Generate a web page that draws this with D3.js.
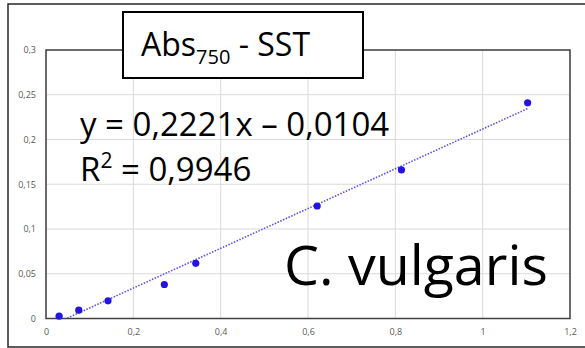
<!DOCTYPE html>
<html>
<head>
<meta charset="utf-8">
<script src="https://cdn.jsdelivr.net/npm/d3@7"></script>
<style>
  body { margin: 0; background: #fff; }
  svg text { font-family: "Open Sans", Lato, sans-serif; }
</style>
</head>
<body>
<div class="chart"></div>
<script>
// data
var xValues = [0.030, 0.075, 0.142, 0.271, 0.343, 0.621, 0.814, 1.103];
var yValues = [0.0026, 0.0093, 0.0197, 0.038, 0.0616, 0.1257, 0.166, 0.241];
var xTicks = [0, 0.2, 0.4, 0.6, 0.8, 1, 1.2];
var yTicks = [0, 0.05, 0.1, 0.15, 0.2, 0.25, 0.3];
var slope = 0.2221, intercept = -0.0104;

var w = 585, h = 348;
var svg = d3.select('.chart').append('svg')
    .attr('width', w).attr('height', h);

// outer frame
svg.append('rect')
    .attr('x', 8).attr('y', 4).attr('width', 600).attr('height', 343)
    .attr('fill', 'none').attr('stroke', '#262626').attr('stroke-width', 1.5);

var x = d3.scaleLinear().domain([0, 1.2]).range([46, 570]);
var y = d3.scaleLinear().domain([0, 0.3]).range([318.5, 50]);

var fmt = function(d) { return String(d).replace('.', ','); };

// grid
svg.append('g').selectAll('line').data(yTicks).enter().append('line')
    .attr('x1', x(0)).attr('x2', x(1.2))
    .attr('y1', function(d) { return y(d); }).attr('y2', function(d) { return y(d); })
    .attr('stroke', '#d9d9d9').attr('stroke-width', 1);
svg.append('g').selectAll('line').data(xTicks).enter().append('line')
    .attr('y1', y(0)).attr('y2', y(0.3))
    .attr('x1', function(d) { return x(d); }).attr('x2', function(d) { return x(d); })
    .attr('stroke', '#d9d9d9').attr('stroke-width', 1);

// axes (labels only, no tick marks)
var yAxis = svg.append('g').attr('transform', 'translate(' + x(0) + ',0)')
    .call(d3.axisLeft(y).tickValues(yTicks).tickFormat(fmt).tickSize(0).tickPadding(10));
var xAxis = svg.append('g').attr('transform', 'translate(0,' + y(0) + ')')
    .call(d3.axisBottom(x).tickValues(xTicks).tickFormat(fmt).tickSize(0).tickPadding(10));
[yAxis, xAxis].forEach(function(a) {
    a.select('.domain').remove();
    a.selectAll('text').attr('font-size', 9).attr('fill', '#595959')
        .attr('font-family', '"Open Sans", sans-serif');
});

// plot frame
svg.append('rect')
    .attr('x', x(0)).attr('y', y(0.3))
    .attr('width', x(1.2) - x(0)).attr('height', y(0) - y(0.3))
    .attr('fill', 'none').attr('stroke', '#404040').attr('stroke-width', 1.5);

// trendline, clipped to the plot
svg.append('clipPath').attr('id', 'clip').append('rect')
    .attr('x', x(0)).attr('y', y(0.3))
    .attr('width', x(1.2) - x(0)).attr('height', y(0) - y(0.3));
var x0 = d3.min(xValues), x1 = d3.max(xValues);
svg.append('line')
    .attr('clip-path', 'url(#clip)')
    .attr('x1', x(x0)).attr('y1', y(slope * x0 + intercept))
    .attr('x2', x(x1)).attr('y2', y(slope * x1 + intercept))
    .attr('stroke', '#5b4ff0').attr('stroke-width', 1.6)
    .attr('stroke-dasharray', '1.5,1.5');

// points
svg.selectAll('circle.pt').data(xValues).enter().append('circle')
    .attr('class', 'pt')
    .attr('cx', function(d) { return x(d); })
    .attr('cy', function(d, i) { return y(yValues[i]); })
    .attr('r', 3.6)
    .attr('fill', '#2414e0');

// title box
svg.append('rect')
    .attr('x', 123).attr('y', 12).attr('width', 240).attr('height', 66)
    .attr('fill', '#fff').attr('stroke', '#000').attr('stroke-width', 2);
var title = svg.append('text').attr('x', 141).attr('y', 56)
    .attr('font-size', 32).attr('fill', '#000');
title.append('tspan').text('Abs');
title.append('tspan').attr('font-size', 20).attr('dy', 8).text('750');
title.append('tspan').attr('dy', -8).text(' - SST');

// equation
svg.append('text').attr('x', 80).attr('y', 136)
    .attr('font-size', 33).attr('fill', '#000')
    .text('y = 0,2221x \u2013 0,0104');
var r2 = svg.append('text').attr('x', 80).attr('y', 181)
    .attr('font-size', 33).attr('fill', '#000');
r2.append('tspan').text('R');
r2.append('tspan').attr('font-size', 21).attr('dy', -13).text('2');
r2.append('tspan').attr('dy', 13).text(' = 0,9946');

// species label
svg.append('text').attr('x', 284).attr('y', 285)
    .attr('font-size', 55.5).attr('fill', '#000')
    .text('C. vulgaris');
</script>
</body>
</html>
